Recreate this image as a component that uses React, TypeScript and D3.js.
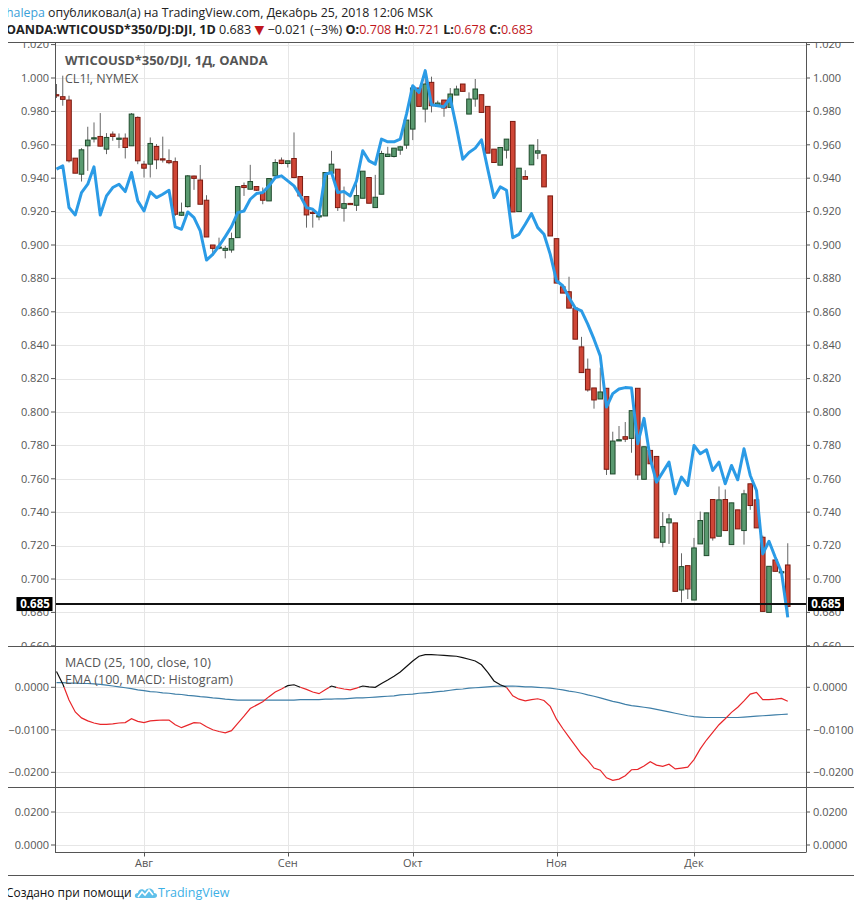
import React from "react";
import * as d3 from "d3";

// ---------- DATA ----------
const monthLabels = ["Авг", "Сен", "Окт", "Ноя", "Дек"];
const monthStartIndex = [14, 37, 57, 80, 102];

const opens = [
  0.990, 0.9888, 0.9868, 0.952, 0.9424, 0.9594, 0.964, 0.965, 0.9574, 0.9664,
  0.9636, 0.964, 0.9594, 0.9764, 0.9484, 0.9484, 0.959, 0.9516, 0.9505, 0.9499,
  0.9178, 0.923, 0.9413, 0.9389, 0.9268, 0.900, 0.8984, 0.8968, 0.897, 0.9044,
  0.9356, 0.9334, 0.935, 0.9314, 0.9264, 0.9414, 0.9508, 0.9488, 0.9518, 0.941,
  0.929, 0.9196, 0.9168, 0.9174, 0.943, 0.9454, 0.922, 0.9249, 0.9238, 0.928,
  0.9404, 0.9224, 0.9304, 0.953, 0.953, 0.9568, 0.9598, 0.9694, 0.994, 0.9814,
  0.9974, 0.983, 0.9868, 0.9824, 0.9898, 0.9964, 0.9784, 0.9874, 0.990, 0.983,
  0.9574, 0.9478, 0.9568, 0.974, 0.920, 0.941, 0.948, 0.955, 0.954, 0.9294,
  0.9038, 0.875, 0.872, 0.8622, 0.839, 0.8256, 0.8144, 0.8078, 0.8142, 0.7629,
  0.7830, 0.7852, 0.7842, 0.8142, 0.7597, 0.777, 0.7734, 0.722, 0.7336, 0.7336,
  0.6934, 0.708, 0.6874, 0.721, 0.714, 0.7476, 0.7256, 0.7476, 0.7206, 0.7414,
  0.729, 0.757, 0.7474, 0.725, 0.680, 0.7114, 0.7044, 0.7084,
];
const highs = [
  0.9964, 1.0014, 0.9894, 0.952, 0.958, 0.9708, 0.9734, 0.979, 0.967, 0.968,
  0.9668, 0.9668, 0.979, 0.977, 0.9504, 0.9644, 0.9604, 0.9649, 0.9573, 0.9524,
  0.9254, 0.9419, 0.9415, 0.9479, 0.9298, 0.900, 0.9044, 0.8994, 0.9074, 0.935,
  0.9374, 0.948, 0.935, 0.9344, 0.9398, 0.9514, 0.9524, 0.9504, 0.9674, 0.941,
  0.929, 0.9204, 0.9184, 0.9434, 0.9564, 0.9454, 0.935, 0.9252, 0.9364, 0.9442,
  0.9404, 0.942, 0.9564, 0.9588, 0.958, 0.9594, 0.9748, 0.994, 0.994, 1.0004,
  1.0008, 0.9864, 0.9868, 0.994, 0.9954, 0.9964, 0.9914, 0.9994, 0.990, 0.983,
  0.9574, 0.9584, 0.9634, 0.974, 0.946, 0.9448, 0.9598, 0.9634, 0.954, 0.9294,
  0.9038, 0.876, 0.881, 0.8622, 0.845, 0.832, 0.8144, 0.8266, 0.8142, 0.7882,
  0.7916, 0.794, 0.8008, 0.8142, 0.7794, 0.777, 0.7734, 0.740, 0.739, 0.7336,
  0.7154, 0.708, 0.7246, 0.7404, 0.7396, 0.7476, 0.7554, 0.7536, 0.7456, 0.7414,
  0.7534, 0.757, 0.7534, 0.726, 0.7076, 0.7114, 0.7046, 0.7214,
];
const lows = [
  0.988, 0.9834, 0.9494, 0.943, 0.938, 0.9444, 0.9614, 0.959, 0.9544, 0.9624,
  0.958, 0.9518, 0.9594, 0.9484, 0.9404, 0.9404, 0.9454, 0.9494, 0.9484, 0.9174,
  0.9174, 0.9224, 0.933, 0.9244, 0.9048, 0.8934, 0.8974, 0.892, 0.8954, 0.9044,
  0.9294, 0.9334, 0.9324, 0.9244, 0.9264, 0.9414, 0.9484, 0.9464, 0.940, 0.9294,
  0.9104, 0.9104, 0.9148, 0.9174, 0.943, 0.9204, 0.914, 0.9244, 0.9204, 0.928,
  0.925, 0.9224, 0.9304, 0.953, 0.9524, 0.954, 0.9576, 0.9628, 0.983, 0.9734,
  0.9794, 0.983, 0.9768, 0.9824, 0.9898, 0.992, 0.9784, 0.9828, 0.9794, 0.955,
  0.9494, 0.9478, 0.9518, 0.9198, 0.920, 0.9394, 0.948, 0.9514, 0.9348, 0.9054,
  0.8772, 0.8712, 0.8622, 0.8436, 0.8236, 0.8122, 0.802, 0.8078, 0.7623, 0.7629,
  0.7828, 0.782, 0.7756, 0.7593, 0.7597, 0.769, 0.7246, 0.719, 0.721, 0.6926,
  0.686, 0.688, 0.6874, 0.721, 0.714, 0.723, 0.7256, 0.729, 0.7206, 0.730,
  0.7206, 0.7414, 0.7306, 0.6806, 0.680, 0.7046, 0.7042, 0.678,
];
const closes = [
  0.9895, 0.9872, 0.9504, 0.943, 0.957, 0.9628, 0.9642, 0.9592, 0.9644, 0.965,
  0.964, 0.9584, 0.9784, 0.9504, 0.946, 0.9608, 0.951, 0.9512, 0.9493, 0.9184,
  0.9196, 0.9414, 0.9399, 0.9244, 0.9048, 0.898, 0.8988, 0.898, 0.9038, 0.935,
  0.9344, 0.938, 0.9328, 0.9268, 0.9398, 0.9494, 0.9488, 0.9504, 0.9404, 0.9294,
  0.918, 0.9192, 0.9176, 0.9434, 0.9484, 0.9224, 0.9248, 0.9247, 0.9296, 0.9442,
  0.925, 0.9286, 0.9548, 0.9544, 0.958, 0.9588, 0.9748, 0.994, 0.983, 0.9964,
  0.9834, 0.985, 0.982, 0.9904, 0.9934, 0.992, 0.9874, 0.9934, 0.9794, 0.955,
  0.9494, 0.9584, 0.9634, 0.9198, 0.946, 0.9394, 0.9598, 0.9564, 0.9348, 0.9054,
  0.8772, 0.8712, 0.8622, 0.8436, 0.8236, 0.8132, 0.8072, 0.812, 0.7657, 0.7826,
  0.7834, 0.7837, 0.8008, 0.7623, 0.7792, 0.769, 0.7246, 0.7314, 0.736, 0.6926,
  0.7074, 0.694, 0.7186, 0.735, 0.7396, 0.7246, 0.7474, 0.729, 0.7456, 0.730,
  0.751, 0.744, 0.7306, 0.6806, 0.7076, 0.7046, 0.7044, 0.6836,
];

// CL1!, NYMEX comparison line (price-scale units)
const cl1 = [
  0.9454, 0.9474, 0.9224, 0.918, 0.9314, 0.9364, 0.9468, 0.918, 0.9294, 0.9344,
  0.9364, 0.932, 0.9434, 0.9264, 0.9204, 0.9318, 0.9284, 0.9304, 0.9328, 0.9108,
  0.9094, 0.9198, 0.9164, 0.9084, 0.891, 0.8944, 0.8994, 0.905, 0.911, 0.9194,
  0.9204, 0.9274, 0.9308, 0.9314, 0.9354, 0.9404, 0.9414, 0.9384, 0.9354, 0.9294,
  0.9224, 0.9214, 0.918, 0.9424, 0.9434, 0.9314, 0.932, 0.9294, 0.9384, 0.9564,
  0.9504, 0.9484, 0.9634, 0.9618, 0.9618, 0.9634, 0.9784, 0.9954, 0.9914, 1.0044,
  0.984, 0.9834, 0.9828, 0.988, 0.9704, 0.9514, 0.9554, 0.958, 0.963, 0.9454,
  0.9284, 0.9348, 0.9328, 0.9044, 0.9064, 0.9124, 0.9188, 0.9104, 0.9064, 0.8944,
  0.8786, 0.8756, 0.8686, 0.8622, 0.8606, 0.8526, 0.8436, 0.8336, 0.803, 0.811,
  0.8138, 0.8146, 0.8144, 0.781, 0.7962, 0.772, 0.758, 0.764, 0.770, 0.751,
  0.761, 0.756, 0.780, 0.775, 0.7774, 0.765, 0.770, 0.757, 0.768, 0.7594,
  0.778, 0.762, 0.753, 0.715, 0.7226, 0.713, 0.704, 0.677,
];

const macd = [
  0.0037, 0.0008, -0.003, -0.0058, -0.0072, -0.0079, -0.0084, -0.0087, -0.0087, -0.0086,
  -0.0084, -0.0083, -0.0074, -0.008, -0.0083, -0.0079, -0.0078, -0.0077, -0.0077, -0.0088,
  -0.0095, -0.0089, -0.0083, -0.0084, -0.0093, -0.01, -0.0104, -0.0107, -0.0102, -0.0085,
  -0.0068, -0.005, -0.0042, -0.0034, -0.0022, -0.0011, -0.0004, 0.0004, 0.0006, 0.0,
  -0.0005, -0.0011, -0.0015, -0.0006, 0.0003, -0.0001, -0.0004, -0.0006, -0.0002, 0.0003,
  0.0001, 0.0, 0.0009, 0.0017, 0.0026, 0.0036, 0.0049, 0.0062, 0.0073, 0.0077,
  0.0077, 0.0076, 0.0075, 0.0074, 0.0073, 0.007, 0.0066, 0.0062, 0.0053, 0.0035,
  0.0015, 0.0006, 0.0, -0.002, -0.0028, -0.0032, -0.0029, -0.0027, -0.0031, -0.0045,
  -0.0075, -0.0097, -0.0117, -0.0137, -0.0157, -0.0172, -0.019, -0.0195, -0.0213, -0.0219,
  -0.0216, -0.0208, -0.0194, -0.0193, -0.0185, -0.0175, -0.0183, -0.0186, -0.0181, -0.0192,
  -0.019, -0.0188, -0.017, -0.0145, -0.0124, -0.0106, -0.0088, -0.0074, -0.0059, -0.0047,
  -0.0032, -0.0016, -0.0012, -0.0029, -0.0029, -0.0028, -0.0026, -0.0033,
];
const macdEma = [
  0.0011, 0.0011, 0.001, 0.001, 0.0009, 0.0009, 0.0008, 0.0007, 0.0005, 0.0003,
  0.0001, -0.0001, -0.0003, -0.0006, -0.0008, -0.001, -0.0011, -0.0013, -0.0014, -0.0016,
  -0.0017, -0.0019, -0.002, -0.0022, -0.0023, -0.0025, -0.0026, -0.0028, -0.0029, -0.003,
  -0.003, -0.003, -0.003, -0.003, -0.003, -0.003, -0.003, -0.003, -0.003, -0.0029,
  -0.0029, -0.0029, -0.0029, -0.0028, -0.0028, -0.0027, -0.0027, -0.0026, -0.0025, -0.0025,
  -0.0024, -0.0023, -0.0022, -0.0021, -0.002, -0.0018, -0.0017, -0.0016, -0.0014, -0.0013,
  -0.0012, -0.001, -0.0009, -0.0007, -0.0005, -0.0004, -0.0002, -0.0001, 0.0, 0.0001,
  0.0002, 0.0003, 0.0003, 0.0003, 0.0002, 0.0001, 0.0001, 0.0, -0.0001, -0.0002,
  -0.0004, -0.0006, -0.0009, -0.0011, -0.0014, -0.0018, -0.0021, -0.0025, -0.0029, -0.0033,
  -0.0036, -0.004, -0.0043, -0.0045, -0.0047, -0.0049, -0.0052, -0.0055, -0.0058, -0.0061,
  -0.0064, -0.0067, -0.0069, -0.007, -0.0071, -0.0071, -0.0071, -0.0071, -0.0071, -0.0071,
  -0.007, -0.0069, -0.0068, -0.0067, -0.0066, -0.0065, -0.0064, -0.0063,
];

const priceTicks = [0.66, 0.68, 0.7, 0.72, 0.74, 0.76, 0.78, 0.8, 0.82, 0.84, 0.86, 0.88, 0.9, 0.92, 0.94, 0.96, 0.98, 1.0, 1.02];
const macdTicks = [0, -0.01, -0.02];
const lowerTicks = [0.02, 0];
const lastPriceLabel = 0.685;

// ---------- LAYOUT ----------
const W = 862, H = 912;
const plotL = 55, plotR = 806;
const boxL = 5.5, boxR = 856.5, boxT = 42.5, boxB = 875.5;
const paneSep1 = 646.5, paneSep2 = 787.5, axisY = 852.5;

const FONT = "'Open Sans', 'DejaVu Sans', sans-serif";
const AX = "#555";
const GRID = "#e6e6e6";
const UP_FILL = "#5a9a70", UP_STROKE = "#1f4a2c";
const DN_FILL = "#cf4636", DN_STROKE = "#7a1a10";

export default function App() {
  const n = opens.length;
  const x = d3.scaleLinear().domain([0, n - 1]).range([56.5, 787.75]);
  const yP = d3.scaleLinear().domain([0.7, 1.0]).range([579, 78]);
  const yM = d3.scaleLinear().domain([-0.02, 0]).range([772.3, 687.3]);
  const yL = d3.scaleLinear().domain([0, 0.02]).range([845, 812]);

  const cl1Line = d3.line<number>().x((_, i) => x(i)).y((d) => yP(d))(cl1) || "";
  const emaLine = d3.line<number>().x((_, i) => x(i)).y((d) => yM(d))(macdEma) || "";

  // split MACD into colored pieces by sign
  const pieces: { pts: [number, number][]; pos: boolean }[] = [];
  let cur: { pts: [number, number][]; pos: boolean } | null = null;
  for (let i = 0; i < n - 1; i++) {
    const a = macd[i], b = macd[i + 1];
    const segs: { p0: [number, number]; p1: [number, number]; pos: boolean }[] = [];
    if ((a >= 0) === (b >= 0)) {
      segs.push({ p0: [i, a], p1: [i + 1, b], pos: a >= 0 });
    } else {
      const t = a / (a - b);
      segs.push({ p0: [i, a], p1: [i + t, 0], pos: a >= 0 });
      segs.push({ p0: [i + t, 0], p1: [i + 1, b], pos: b >= 0 });
    }
    for (const s of segs) {
      if (!cur || cur.pos !== s.pos) {
        cur = { pts: [s.p0], pos: s.pos };
        pieces.push(cur);
      }
      cur.pts.push(s.p1);
    }
  }
  const lineXY = d3.line<[number, number]>().x((d) => x(d[0])).y((d) => yM(d[1]));

  const bw = 4.6;
  const fmtP = d3.format(".3f");
  const fmtM = (v: number) => (v === 0 ? "0.0000" : d3.format(".4f")(v));

  return (
    <svg width={W} height={H} style={{ display: "block", margin: "-8px" }} fontFamily={FONT}>
      <defs>
        <clipPath id="pricePlot"><rect x={plotL} y={boxT} width={plotR - plotL} height={paneSep1 - boxT} /></clipPath>
        <clipPath id="priceAxis"><rect x={0} y={boxT} width={W} height={paneSep1 - boxT} /></clipPath>
        <clipPath id="macdPlot"><rect x={plotL} y={paneSep1} width={plotR - plotL} height={paneSep2 - paneSep1} /></clipPath>
      </defs>
      <rect x={0} y={0} width={W} height={H} fill="#fff" />

      {/* header */}
      <text x={6} y={17} fontSize={12.35} fill="#222">
        <tspan fill="#3ca0d8">halepa</tspan>
        <tspan> опубликовал(а) на TradingView.com, Декабрь 25, 2018 12:06 MSK</tspan>
      </text>
      <text x={6} y={34} fontSize={12.6} fill="#222">
        <tspan fontWeight="bold">OANDA:WTICOUSD*350/DJ:DJI, 1D</tspan>
        <tspan> 0.683 </tspan>
        <tspan fill="#c0161c">▼</tspan>
        <tspan> −0.021 (−3%) </tspan>
        <tspan fontWeight="bold">O:</tspan><tspan fill="#c0161c">0.708</tspan>
        <tspan fontWeight="bold"> H:</tspan><tspan fill="#c0161c">0.721</tspan>
        <tspan fontWeight="bold"> L:</tspan><tspan fill="#c0161c">0.678</tspan>
        <tspan fontWeight="bold"> C:</tspan><tspan fill="#c0161c">0.683</tspan>
      </text>

      {/* gridlines */}
      <g stroke={GRID} strokeWidth={1}>
        {monthStartIndex.map((mi, k) => (
          <line key={"vg" + k} x1={Math.round(x(mi)) + 0.5} x2={Math.round(x(mi)) + 0.5} y1={boxT} y2={axisY} />
        ))}
        <g clipPath="url(#pricePlot)">
          {priceTicks.map((t, k) => (
            <line key={"pg" + k} x1={plotL} x2={plotR} y1={Math.round(yP(t)) + 0.5} y2={Math.round(yP(t)) + 0.5} />
          ))}
        </g>
        {macdTicks.map((t, k) => (
          <line key={"mg" + k} x1={plotL} x2={plotR} y1={Math.round(yM(t)) + 0.5} y2={Math.round(yM(t)) + 0.5} />
        ))}
        {lowerTicks.map((t, k) => (
          <line key={"lg" + k} x1={plotL} x2={plotR} y1={Math.round(yL(t)) + 0.5} y2={Math.round(yL(t)) + 0.5} />
        ))}
      </g>

      {/* price pane content */}
      <g clipPath="url(#pricePlot)">
        {opens.map((o, i) => {
          const c = closes[i];
          const up = c >= o;
          const cx = x(i);
          const top = yP(Math.max(o, c));
          const bot = yP(Math.min(o, c));
          return (
            <g key={"c" + i}>
              <line x1={cx} x2={cx} y1={yP(highs[i])} y2={yP(lows[i])} stroke="#666" strokeWidth={1} />
              <rect x={cx - bw / 2} y={top} width={bw} height={Math.max(bot - top, 1.2)}
                fill={up ? UP_FILL : DN_FILL} stroke={up ? UP_STROKE : DN_STROKE} strokeWidth={1} />
            </g>
          );
        })}
        <path d={cl1Line} fill="none" stroke="#2b9be6" strokeWidth={3} strokeLinejoin="round" />
        <line x1={plotL} x2={plotR} y1={yP(lastPriceLabel)} y2={yP(lastPriceLabel)} stroke="#111" strokeWidth={2} />
      </g>

      {/* legends */}
      <text x={65} y={65} fontSize={13} fontWeight="bold" fill="#555">WTICOUSD*350/DJI, 1Д, OANDA</text>
      <text x={65} y={83} fontSize={12.5} fill="#555">CL1!, NYMEX</text>

      {/* price axis labels */}
      <g clipPath="url(#priceAxis)" fontSize={11} fill={AX}>
        {priceTicks.map((t, k) => {
          const y = yP(t);
          return (
            <g key={"pt" + k}>
              <line x1={plotL - 4} x2={plotL} y1={y} y2={y} stroke={AX} />
              <text x={plotL - 6} y={y} dy="0.35em" textAnchor="end">{fmtP(t)}</text>
              <line x1={plotR} x2={plotR + 4} y1={y} y2={y} stroke={AX} />
              <text x={plotR + 7} y={y} dy="0.35em">{fmtP(t)}</text>
            </g>
          );
        })}
        {/* last price labels */}
        <rect x={16.5} y={yP(lastPriceLabel) - 7} width={36} height={14} fill="#000" />
        <text x={35} y={yP(lastPriceLabel)} dy="0.36em" textAnchor="middle" fill="#fff" fontWeight="bold" fontSize={11.5}>{fmtP(lastPriceLabel)}</text>
        <rect x={808} y={yP(lastPriceLabel) - 7} width={36} height={14} fill="#000" />
        <text x={826} y={yP(lastPriceLabel)} dy="0.36em" textAnchor="middle" fill="#fff" fontWeight="bold" fontSize={11.5}>{fmtP(lastPriceLabel)}</text>
      </g>

      {/* MACD pane */}
      <g clipPath="url(#macdPlot)">
        <path d={emaLine} fill="none" stroke="#3f7fa8" strokeWidth={1.2} />
        {pieces.map((p, k) => (
          <path key={"mp" + k} d={lineXY(p.pts) || ""} fill="none" stroke={p.pos ? "#111" : "#e8262a"} strokeWidth={1.2} />
        ))}
      </g>
      <text x={65} y={667} fontSize={12.5} fill="#555">MACD (25, 100, close, 10)</text>
      <text x={65} y={684} fontSize={12.5} fill="#555">EMA (100, MACD: Histogram)</text>
      <g fontSize={11} fill={AX}>
        {macdTicks.map((t, k) => {
          const y = yM(t);
          return (
            <g key={"mt" + k}>
              <line x1={plotL - 4} x2={plotL} y1={y} y2={y} stroke={AX} />
              <text x={plotL - 6} y={y} dy="0.35em" textAnchor="end">{fmtM(t)}</text>
              <line x1={plotR} x2={plotR + 4} y1={y} y2={y} stroke={AX} />
              <text x={plotR + 7} y={y} dy="0.35em">{fmtM(t)}</text>
            </g>
          );
        })}
        {lowerTicks.map((t, k) => {
          const y = yL(t);
          return (
            <g key={"lt" + k}>
              <line x1={plotL - 4} x2={plotL} y1={y} y2={y} stroke={AX} />
              <text x={plotL - 6} y={y} dy="0.35em" textAnchor="end">{fmtM(t)}</text>
              <line x1={plotR} x2={plotR + 4} y1={y} y2={y} stroke={AX} />
              <text x={plotR + 7} y={y} dy="0.35em">{fmtM(t)}</text>
            </g>
          );
        })}
      </g>

      {/* frame lines */}
      <g stroke="#555" strokeWidth={1} fill="none">
        <rect x={boxL} y={boxT} width={boxR - boxL} height={boxB - boxT} />
        <line x1={boxL} x2={boxR} y1={paneSep1} y2={paneSep1} />
        <line x1={boxL} x2={boxR} y1={paneSep2} y2={paneSep2} />
        <line x1={plotL + 0.5} x2={plotL + 0.5} y1={boxT} y2={axisY} />
        <line x1={plotR + 0.5} x2={plotR + 0.5} y1={boxT} y2={axisY} />
        <line x1={plotL} x2={plotR} y1={axisY} y2={axisY} />
      </g>

      {/* x axis */}
      <g fontSize={11} fill={AX}>
        {monthStartIndex.map((mi, k) => (
          <g key={"xt" + k}>
            <line x1={Math.round(x(mi)) + 0.5} x2={Math.round(x(mi)) + 0.5} y1={axisY} y2={axisY + 4} stroke={AX} />
            <text x={x(mi)} y={867} textAnchor="middle">{monthLabels[k]}</text>
          </g>
        ))}
      </g>

      {/* footer */}
      <text x={6} y={897} fontSize={11.9} fill="#111">Создано при помощи</text>
      <g transform="translate(135,886)">
        <path d="M2,12 C-1,12 -1,7 3,7 C3,3 8,2 10,5 C12,1 19,2 19,7 C23,7 23,12 19,12 Z" fill="#5fc0ea" />
        <path d="M3,11 L7,6 L10,9 L14,4 L18,9" fill="none" stroke="#fff" strokeWidth={1.6} />
      </g>
      <text x={158} y={897} fontSize={12.5} fill="#3cb0e6">TradingView</text>
    </svg>
  );
}
